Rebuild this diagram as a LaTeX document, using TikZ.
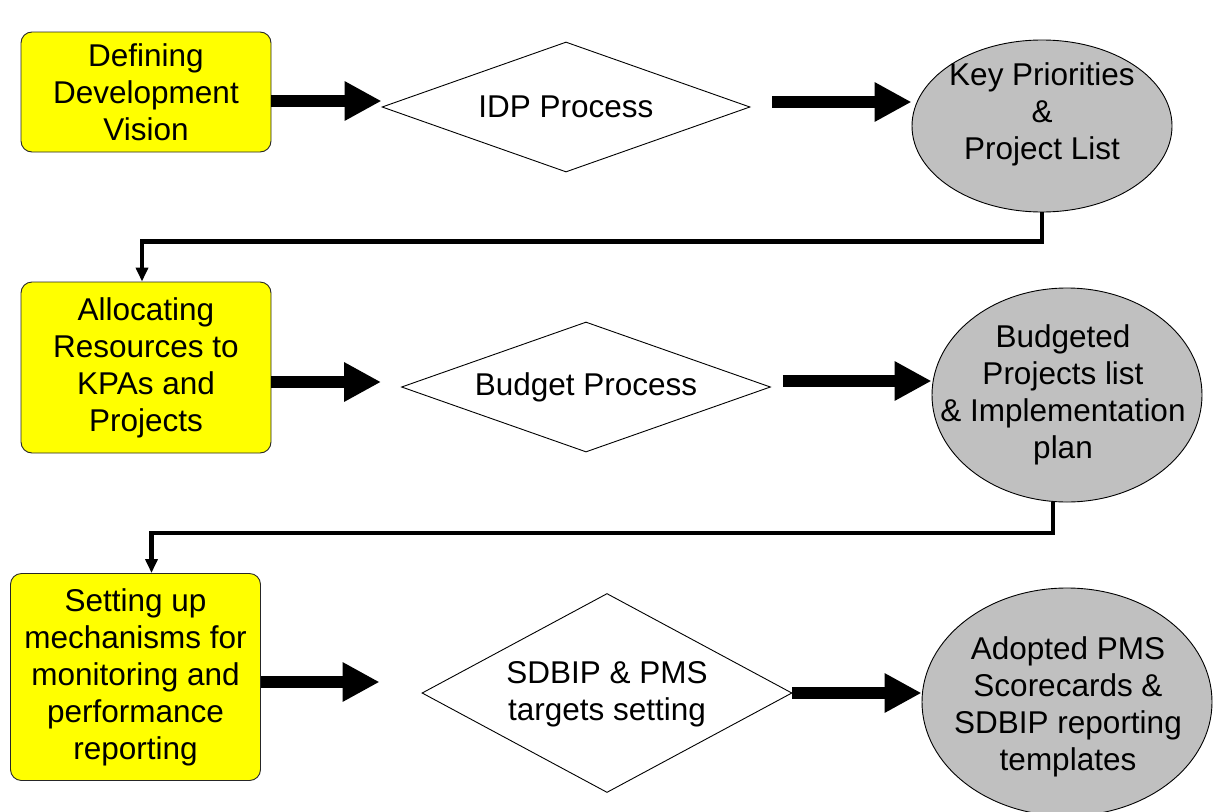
\documentclass[tikz,border=0pt]{standalone}
\usepackage{fontspec}
\setmainfont{Liberation Sans}
\usetikzlibrary{arrows.meta,shapes.geometric}
\definecolor{boxyellow}{HTML}{FFFF00}
\definecolor{ellgray}{HTML}{C0C0C0}
\tikzset{
  stepbox/.style={draw=black!85, line width=0.9pt, fill=boxyellow, rounded corners=11pt,
    minimum width=250pt, inner sep=2pt, align=center, font=\fontsize{31.5}{37}\selectfont},
  decision/.style={draw=black, line width=0.9pt, fill=white, diamond, inner sep=0pt},
  outcome/.style={draw=black, line width=0.9pt, fill=ellgray, ellipse, inner sep=0pt},
  label text/.style={align=center, inner sep=0pt, font=\fontsize{31.5}{37}\selectfont},
  bigarrow/.style={line width=12pt, -{Triangle[width=37pt,length=37pt]}},
  conn/.style={line width=4.5pt, -{Triangle[width=12pt,length=14pt]}}
}
\begin{document}
\begin{tikzpicture}[x=1pt,y=-1pt]
\useasboundingbox (0,0) rectangle (1214,811);
% row 1
\node[stepbox, minimum height=120pt] (b1) at (146,92) {Defining\\Development\\Vision};
\node[decision, minimum width=368pt, minimum height=130pt] (d1) at (566,107) {};
\node[label text] (t1) at (d1) {IDP Process};
\node[outcome, minimum width=260pt, minimum height=172pt] (e1) at (1042,126) {};
\node[label text] (t2) at (1042,114) {Key Priorities\\\&\\Project List};
% row 2
\node[stepbox, minimum height=171pt] (b2) at (146,367.5) {Allocating\\Resources to\\KPAs and\\Projects};
\node[decision, minimum width=369pt, minimum height=130pt] (d2) at (586,387) {};
\node[label text] (t3) at (d2) {Budget Process};
\node[outcome, minimum width=270pt, minimum height=214pt] (e2) at (1067,395) {};
\node[label text] (t4) at (1063,395) {Budgeted\\Projects list\\\& Implementation\\plan};
% row 3
\node[stepbox, minimum height=207pt] (b3) at (135.5,677) {Setting up\\mechanisms for\\monitoring and\\performance\\reporting};
\node[decision, minimum width=370pt, minimum height=199pt] (d3) at (607,693) {};
\node[label text] (t5) at (607,694) {SDBIP \& PMS\\targets setting};
\node[outcome, minimum width=290pt, minimum height=228pt] (e3) at (1067,702) {};
\node[label text] (t6) at (1068,707) {Adopted PMS\\Scorecards \&\\SDBIP reporting\\templates};
% block arrows
\draw[bigarrow] (b1.east |- 0,101) -- (d1.west |- 0,101);
\draw[bigarrow] ([xshift=22pt]d1.east |- 0,102) -- (e1.west |- 0,102);
\draw[bigarrow] (b2.east |- 0,382) -- ([xshift=-20pt]d2.west |- 0,382);
\draw[bigarrow] ([xshift=12pt]d2.east |- 0,381) -- (e2.west |- 0,381);
\draw[bigarrow] (b3.east |- 0,682) -- ([xshift=-42pt]d3.west |- 0,682);
\draw[bigarrow] (d3.east) -- (e3.west |- d3.east);
% connectors
\draw[conn] (e1.south) |- ([xshift=-4pt,yshift=40pt]b2.north) -- ([xshift=-4pt]b2.north);
\draw[conn] ([xshift=-14pt]e2.south) |- ([xshift=16pt,yshift=40pt]b3.north) -- ([xshift=16pt]b3.north);
\end{tikzpicture}
\end{document}
